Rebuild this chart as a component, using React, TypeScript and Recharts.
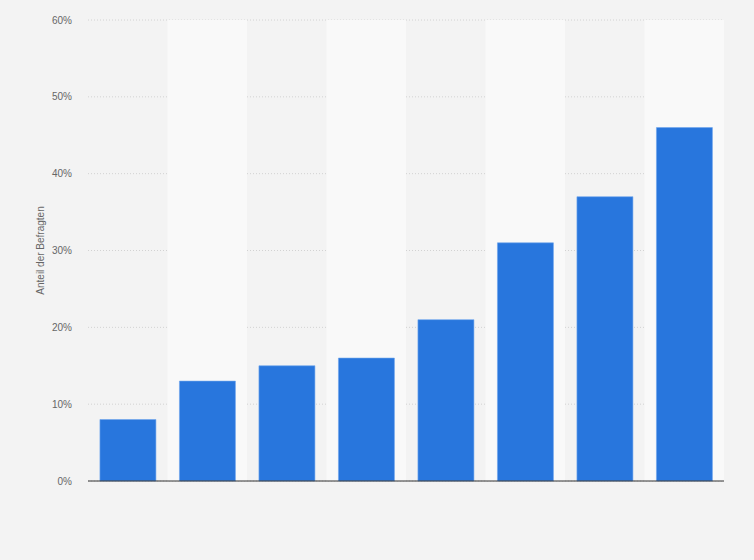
import React from "react"
import { BarChart, Bar, XAxis, YAxis, CartesianGrid, ReferenceArea, Label } from "recharts"

const categories = ["1", "2", "3", "4", "5", "6", "7", "8"]
const shares = [8, 13, 15, 16, 21, 31, 37, 46]
const yTicks = [0, 10, 20, 30, 40, 50, 60]

const data = categories.map((name, i) => ({ name, share: shares[i] }))

const font = "Liberation Sans, Arial, sans-serif"

export default function App() {
  return (
    <div style={{ position: "absolute", left: 0, top: 0, width: 754, height: 560, background: "#f3f3f3" }}>
      <BarChart
        width={754}
        height={560}
        data={data}
        margin={{ top: 20, right: 30, bottom: 49, left: 0 }}
        barCategoryGap="15%"
      >
        {categories.map((c, i) =>
          i % 2 === 1 ? (
            <ReferenceArea key={c} x1={c} x2={c} fill="#f9f9f9" fillOpacity={1} stroke="none" ifOverflow="visible" />
          ) : null
        )}
        <CartesianGrid vertical={false} stroke="#d2d2d2" strokeDasharray="1 2" />
        <XAxis dataKey="name" tick={false} tickLine={false} axisLine={{ stroke: "#333", strokeWidth: 1 }} height={30} />
        <YAxis
          width={88}
          domain={[0, 60]}
          ticks={yTicks}
          tickFormatter={(v) => `${v}%`}
          axisLine={false}
          tickLine={false}
          tickSize={8}
          tickMargin={8}
          tick={{ fill: "#666", fontSize: 10, fontFamily: font }}
        >
          <Label
            value="Anteil der Befragten"
            angle={-90}
            position="insideLeft"
            offset={40}
            style={{ textAnchor: "middle", fill: "#666", fontSize: 10, fontFamily: font }}
          />
        </YAxis>
        <Bar dataKey="share" fill="#2876dd" stroke="#6fa6ec" strokeWidth={0.6} isAnimationActive={false} />
      </BarChart>
    </div>
  )
}
